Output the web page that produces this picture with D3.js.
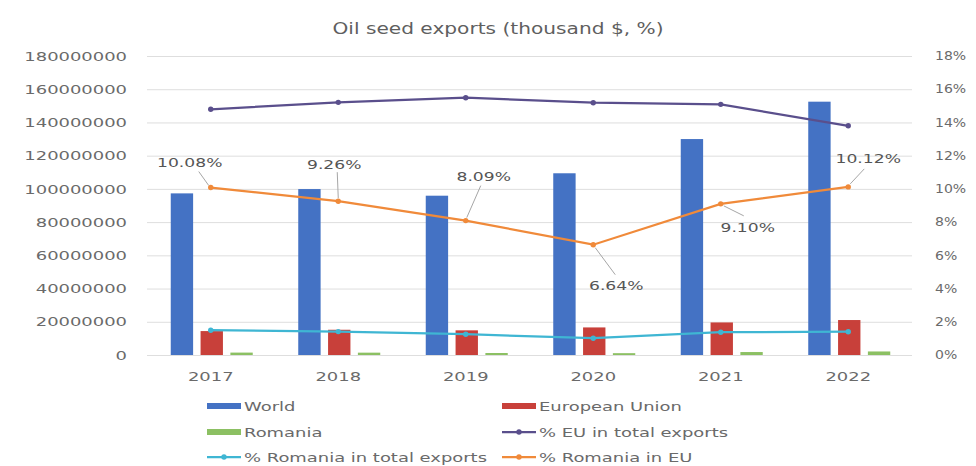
<!DOCTYPE html>
<html>
<head>
<meta charset="utf-8">
<script src="https://cdn.jsdelivr.net/npm/d3@7"></script>
<style>
  html, body { margin: 0; padding: 0; background: #fff; }
  svg { display: block; font-family: "DejaVu Sans", sans-serif; }
</style>
</head>
<body>
<svg id="chart" width="976" height="466"></svg>
<script>
// Oil seed exports, thousand $ and shares
const years = ["2017", "2018", "2019", "2020", "2021", "2022"];
const world = [97300000, 99900000, 95900000, 109400000, 130000000, 152500000];
const europeanUnion = [14400000, 15200000, 14850000, 16600000, 19600000, 21050000];
const romania = [1450000, 1410000, 1200000, 1100000, 1780000, 2130000];
const pctEUinTotal = [14.79, 15.21, 15.49, 15.19, 15.09, 13.80];
const pctRomaniaInTotal = [1.49, 1.41, 1.25, 1.01, 1.37, 1.40];
const pctRomaniaInEU = [10.08, 9.26, 8.09, 6.64, 9.10, 10.12];
const leftTicks = [0, 20000000, 40000000, 60000000, 80000000, 100000000, 120000000, 140000000, 160000000, 180000000];
const rightTicks = [0, 2, 4, 6, 8, 10, 12, 14, 16, 18];

const barSeries = [
  { name: "World", values: world, color: "#4472c4" },
  { name: "European Union", values: europeanUnion, color: "#c8403a" },
  { name: "Romania", values: romania, color: "#8cc063" }
];
const lineSeries = [
  { name: "% EU in total exports", values: pctEUinTotal, color: "#5a4f8c" },
  { name: "% Romania in total exports", values: pctRomaniaInTotal, color: "#3fb6d3" },
  { name: "% Romania in EU", values: pctRomaniaInEU, color: "#f08a3a" }
];

// label placement for the "% Romania in EU" values (offsets from the point, px):
// dx/dy = label centre, sx/sy = leader start near the point, lx/ly = leader end
const labelPlacement = [
  { dx: -21, dy: -25, sx: -2, sy: -2, lx: -12, ly: -16 },
  { dx: -4, dy: -37, sx: 0, sy: -3, lx: -1, ly: -29 },
  { dx: 18, dy: -44, sx: 1, sy: -3, lx: 15, ly: -35 },
  { dx: 23, dy: 41, sx: 2, sy: 3, lx: 22, ly: 30 },
  { dx: 27, dy: 24, sx: 3, sy: 2, lx: 23, ly: 12 },
  { dx: 20, dy: -28, sx: 2, sy: -3, lx: 16, ly: -18 }
];

const K = 1.38; // horizontal stretch applied to the wide lettering
function stretch(sel, k) {
  sel.each(function () {
    const t = d3.select(this);
    const x = +t.attr("x") || 0;
    const y = +t.attr("y") || 0;
    t.attr("transform", `translate(${x},${y}) scale(${k},1) translate(${-x},${-y})`);
  });
}

const textColor = "#6a6a6a";
const svg = d3.select("#chart");
const plot = { left: 147, right: 912, top: 56, bottom: 355 };

const x = d3.scaleBand().domain(years).range([plot.left, plot.right]).padding(0);
const inner = d3.scaleBand().domain(barSeries.map(d => d.name)).range([-40, 42]).paddingInner(0.25);
const yL = d3.scaleLinear().domain([0, 180000000]).range([plot.bottom, plot.top]);
const yR = d3.scaleLinear().domain([0, 18]).range([plot.bottom, plot.top]);
const cx = yr => x(yr) + x.bandwidth() / 2;

// title
const title = svg.append("text")
  .attr("x", 498).attr("y", 34)
  .attr("text-anchor", "middle")
  .attr("font-size", 15.5)
  .attr("fill", "#5f5f5f")
  .text("Oil seed exports (thousand $, %)");
stretch(title, 1.3);

// gridlines
svg.append("g")
  .selectAll("line")
  .data(leftTicks)
  .join("line")
  .attr("x1", plot.left).attr("x2", plot.right)
  .attr("y1", d => yL(d) + 0.5).attr("y2", d => yL(d) + 0.5)
  .attr("stroke", "#dedede").attr("stroke-width", 1);

// left axis
const axL = svg.append("g")
  .attr("transform", `translate(${plot.left},0)`)
  .call(d3.axisLeft(yL).tickValues(leftTicks).tickFormat(d3.format("d")).tickSize(0).tickPadding(20));
axL.select(".domain").remove();
axL.selectAll("text").attr("font-size", 13).attr("fill", textColor).attr("font-family", "DejaVu Sans");
stretch(axL.selectAll("text"), K);

// right axis
const axR = svg.append("g")
  .attr("transform", `translate(${plot.right},0)`)
  .call(d3.axisRight(yR).tickValues(rightTicks).tickFormat(d => d + "%").tickSize(0).tickPadding(23));
axR.select(".domain").remove();
axR.selectAll("text").attr("font-size", 11.5).attr("fill", textColor).attr("font-family", "DejaVu Sans");
stretch(axR.selectAll("text"), 1.22);

// bottom axis
const axB = svg.append("g")
  .attr("transform", `translate(0,${plot.bottom})`)
  .call(d3.axisBottom(x).tickSize(0).tickPadding(17));
axB.select(".domain").remove();
axB.selectAll("text").attr("font-size", 13).attr("fill", textColor).attr("font-family", "DejaVu Sans");
stretch(axB.selectAll("text"), K);

// bars
barSeries.forEach(s => {
  svg.append("g")
    .selectAll("rect")
    .data(years.map((yr, i) => ({ yr, v: s.values[i] })))
    .join("rect")
    .attr("x", d => cx(d.yr) + inner(s.name))
    .attr("width", inner.bandwidth())
    .attr("y", d => yL(d.v))
    .attr("height", d => yL(0) - yL(d.v))
    .attr("fill", s.color);
});

// lines with markers
lineSeries.forEach(s => {
  const pts = years.map((yr, i) => ({ yr, v: s.values[i] }));
  svg.append("path")
    .datum(pts)
    .attr("fill", "none")
    .attr("stroke", s.color)
    .attr("stroke-width", 2.25)
    .attr("d", d3.line().x(d => cx(d.yr)).y(d => yR(d.v)));
  svg.append("g")
    .selectAll("circle")
    .data(pts)
    .join("circle")
    .attr("cx", d => cx(d.yr)).attr("cy", d => yR(d.v))
    .attr("r", 2.7)
    .attr("fill", s.color);
});

// data labels for % Romania in EU with leader lines
const lblG = svg.append("g");
pctRomaniaInEU.forEach((v, i) => {
  const px = cx(years[i]), py = yR(v), p = labelPlacement[i];
  lblG.append("line")
    .attr("x1", px + p.sx).attr("y1", py + p.sy)
    .attr("x2", px + p.lx).attr("y2", py + p.ly)
    .attr("stroke", "#a6a6a6").attr("stroke-width", 1);
  const t = lblG.append("text")
    .attr("x", px + p.dx).attr("y", py + p.dy)
    .attr("dy", "0.35em")
    .attr("text-anchor", "middle")
    .attr("font-size", 13)
    .attr("fill", "#555")
    .text(d3.format(".2f")(v) + "%");
  stretch(t, 1.32);
});

// legend
const legendItems = [
  { s: barSeries[0], type: "bar", col: 0, row: 0 },
  { s: barSeries[1], type: "bar", col: 1, row: 0 },
  { s: barSeries[2], type: "bar", col: 0, row: 1 },
  { s: lineSeries[0], type: "line", col: 1, row: 1 },
  { s: lineSeries[1], type: "line", col: 0, row: 2 },
  { s: lineSeries[2], type: "line", col: 1, row: 2 }
];
const colX = [207, 502], rowY = [406, 432, 457];
const lg = svg.append("g");
legendItems.forEach(it => {
  const gx = colX[it.col], gy = rowY[it.row];
  if (it.type === "bar") {
    lg.append("rect").attr("x", gx).attr("y", gy - 3).attr("width", 34).attr("height", 6).attr("fill", it.s.color);
  } else {
    lg.append("line").attr("x1", gx).attr("x2", gx + 34).attr("y1", gy).attr("y2", gy)
      .attr("stroke", it.s.color).attr("stroke-width", 2.25);
    lg.append("circle").attr("cx", gx + 17).attr("cy", gy).attr("r", 2.7).attr("fill", it.s.color);
  }
  const t = lg.append("text")
    .attr("x", gx + 37).attr("y", gy)
    .attr("dy", "0.35em")
    .attr("font-size", 13)
    .attr("fill", textColor)
    .text(it.s.name);
  stretch(t, K);
});
</script>
</body>
</html>
